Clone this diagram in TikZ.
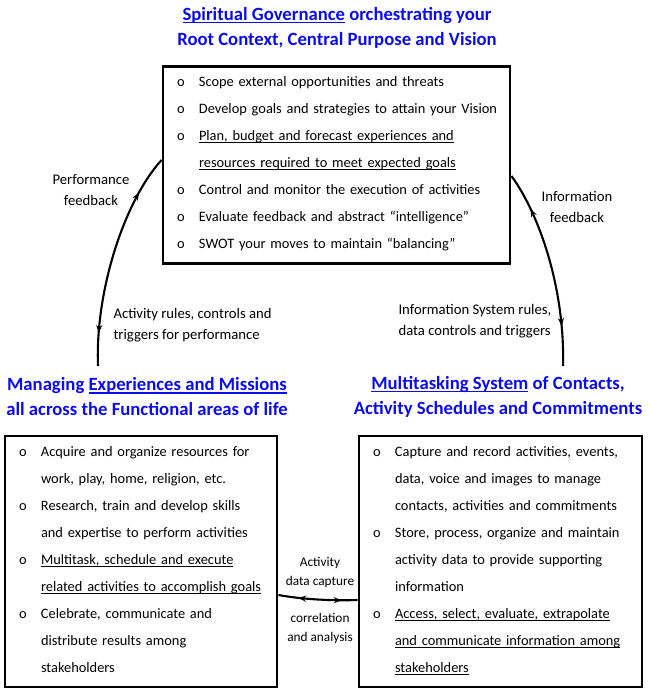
\documentclass[tikz,border=0pt]{standalone}
\usepackage{fontspec}
\setmainfont{Carlito}
\usepackage{xcolor}
\usetikzlibrary{positioning,arrows.meta,decorations.markings}

\definecolor{headblue}{RGB}{12,12,235}
\newcommand\lst{\rule[-11pt]{0pt}{27pt}}
\newcommand\itm[1]{\lst\mbox{\makebox[22pt][l]{o}#1}}
\newcommand\cnt[1]{\lst\mbox{\hspace*{22pt}#1}}
\newcommand\undl[1]{\setbox0\hbox{#1}\rlap{\rule[-2.2pt]{\wd0}{0.7pt}}\box0\relax}
\newcommand\hdul[1]{\setbox0\hbox{#1}\rlap{\rule[-2.8pt]{\wd0}{1.4pt}}\box0\relax}

\begin{document}
\begin{tikzpicture}[x=1pt, y=-1pt,
    box/.style={draw, line width=2.8pt, align=left, inner xsep=14pt, inner ysep=4pt, font=\fontsize{14.4}{27}\selectfont},
    heading/.style={align=center, text=headblue, font=\bfseries\fontsize{18.7}{25}\selectfont},
    note/.style={align=center, font=\fontsize{14.7}{21}\selectfont},
    midnote/.style={align=center, font=\fontsize{13.3}{19}\selectfont},
    twoway/.style 2 args={postaction={decorate}, decoration={markings,
        mark=at position #1 with {\arrowreversed{Stealth[length=8pt,width=6pt]}},
        mark=at position #2 with {\arrow{Stealth[length=8pt,width=6pt]}}}},
    flow/.style={line width=2.1pt}
]
\useasboundingbox (0,0) rectangle (648,692);

% headings
\node[heading] (govtitle) at (337,28) {\hdul{Spiritual Governance} orchestrating your\\Root Context, Central Purpose and Vision};
\node[heading] (mgtitle) at (147,397) {Managing \hdul{Experiences and Missions}\\all across the Functional areas of life};
\node[heading] (systitle) at (498,397) {\hdul{Multitasking System} of Contacts,\\Activity Schedules and Commitments};

% boxes
\node[box, text width=319pt] (govbox) at (336.5,165) {%
  \itm{Scope external opportunities and threats}\\
  \itm{Develop goals and strategies to attain your Vision}\\
  \itm{\undl{Plan, budget and forecast experiences and}}\\
  \cnt{\undl{resources required to meet expected goals}}\\
  \itm{Control and monitor the execution of activities}\\
  \itm{Evaluate feedback and abstract “intelligence”}\\
  \itm{SWOT your moves to maintain “balancing”}};
\node[box, text width=244pt] (actbox) at (141,561.5) {%
  \itm{Acquire and organize resources for}\\
  \cnt{work, play, home, religion, etc.}\\
  \itm{Research, train and develop skills}\\
  \cnt{and expertise to perform activities}\\
  \itm{\undl{Multitask, schedule and execute}}\\
  \cnt{\undl{related activities to accomplish goals}}\\
  \itm{Celebrate, communicate and}\\
  \cnt{distribute results among}\\
  \cnt{stakeholders}};
\node[box, text width=255pt] (sysbox) at (500.5,561.5) {%
  \itm{Capture and record activities, events,}\\
  \cnt{data, voice and images to manage}\\
  \cnt{contacts, activities and commitments}\\
  \itm{Store, process, organize and maintain}\\
  \cnt{activity data to provide supporting}\\
  \cnt{information}\\
  \itm{\undl{Access, select, evaluate, extrapolate}}\\
  \cnt{\undl{and communicate information among}}\\
  \cnt{\undl{stakeholders}}};

% connector labels
\node[note] (perflbl) at (91,190) {Performance\\feedback};
\node[note] (infolbl) at (577,207) {Information\\feedback};
\node[note, align=left, anchor=west] (rulelbl) at (110,325) {Activity rules, controls and\\triggers for performance};
\node[note, align=left, anchor=west] (islbl) at (395,321) {Information System rules,\\data controls and triggers};
\node[midnote] (caplbl) at (320,572) {Activity\\data capture};
\node[midnote] (corlbl) at (320,628) {correlation\\and analysis};

% loose ends of the arcs
\coordinate (lfoot) at (98,366);
\coordinate (rfoot) at (563,366);

% connectors
\draw[flow, twoway={0.15}{0.82}] (lfoot) .. controls (95,290) and (125,200) .. ([yshift=5pt]govbox.west);
\draw[flow, twoway={0.2}{0.81}] (rfoot) .. controls (565,290) and (540,215) .. ([yshift=-11pt]govbox.east);
\draw[flow, twoway={0.25}{0.8}] ([yshift=-33.5pt]actbox.east) .. controls ++(22,4) and ++(-28,1) .. ([yshift=-38.5pt]sysbox.west);

\end{tikzpicture}
\end{document}
